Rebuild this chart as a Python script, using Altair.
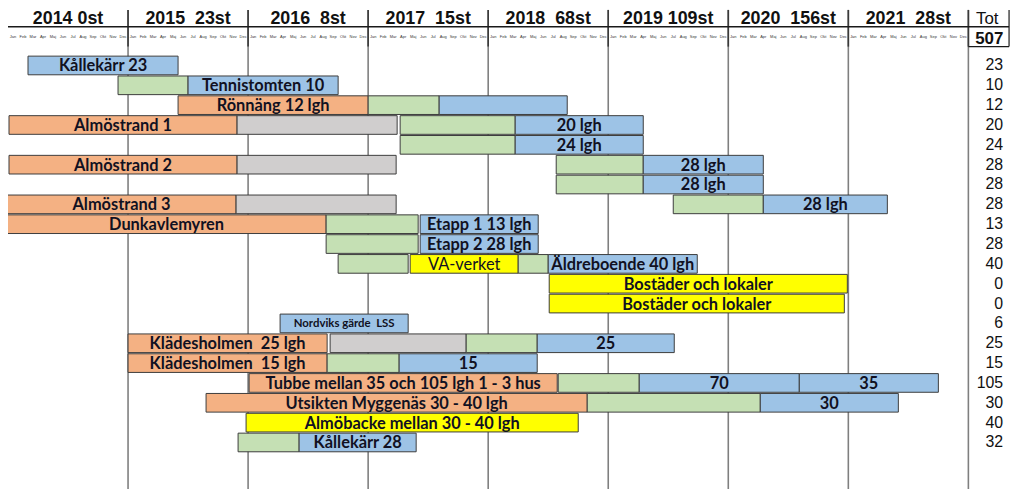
import altair as alt
import pandas as pd

# ---------------- data ----------------
year_labels = ["2014 0st", "2015\u00a0\u00a023st", "2016\u00a0\u00a08st", "2017\u00a0\u00a015st",
               "2018\u00a0\u00a068st", "2019 109st", "2020\u00a0\u00a0156st", "2021\u00a0\u00a028st"]
month_abbr = ["Jan", "Feb", "Mar", "Apr", "Maj", "Jun", "Jul", "Aug", "Sep", "Okt", "Nov", "Dec"]
year_bounds = [12, 24, 36, 48, 60, 72, 84, 96]
totals = [23, 10, 12, 20, 24, 28, 28, 28, 13, 28, 40, 0, 0, 6, 25, 15, 105, 30, 40, 32]
grand_total = "507"

# segments: row, start month (0 = Jan 2014), end month, phase colour, label, label style
seg_row = [0,
           1, 1,
           2, 2, 2,
           3, 3, 3, 3,
           4, 4,
           5, 5, 5, 5,
           6, 6,
           7, 7, 7, 7,
           8, 8, 8,
           9, 9,
           10, 10, 10, 10,
           11,
           12,
           13,
           14, 14, 14, 14,
           15, 15, 15,
           16, 16, 16, 16,
           17, 17, 17,
           18,
           19, 19]
seg_start = [2.0,
             11.0, 18.0,
             17.0, 36.0, 43.1,
             0.1, 22.9, 39.2, 50.7,
             39.2, 50.7,
             0.1, 22.9, 54.8, 63.5,
             54.8, 63.5,
             -0.1, 22.8, 66.5, 75.5,
             -0.1, 31.8, 41.2,
             31.8, 41.2,
             33.0, 40.2, 51.0, 54.0,
             54.1,
             54.1,
             27.2,
             12.0, 32.2, 45.8, 52.9,
             12.0, 31.9, 39.1,
             24.1, 55.0, 63.1, 79.1,
             19.8, 57.9, 75.2,
             23.8,
             23.0, 29.1]
seg_end = [17.0,
           18.0, 33.0,
           36.0, 43.1, 55.9,
           22.9, 38.9, 50.7, 63.5,
           50.7, 63.5,
           22.9, 38.8, 63.5, 75.5,
           63.5, 75.5,
           22.8, 38.8, 75.5, 87.9,
           31.8, 41.0, 53.0,
           41.0, 53.0,
           40.0, 51.0, 54.0, 68.9,
           83.9,
           83.6,
           40.0,
           31.9, 45.8, 52.9, 66.6,
           31.9, 39.1, 52.9,
           54.9, 63.1, 79.1, 93.0,
           57.9, 75.2, 89.0,
           57.0,
           29.1, 40.8]
seg_phase = ["blue",
             "green", "blue",
             "orange", "green", "blue",
             "orange", "gray", "green", "blue",
             "green", "blue",
             "orange", "gray", "green", "blue",
             "green", "blue",
             "orange", "gray", "green", "blue",
             "orange", "green", "blue",
             "green", "blue",
             "green", "yellow", "green", "blue",
             "yellow",
             "yellow",
             "blue",
             "orange", "gray", "green", "blue",
             "orange", "green", "blue",
             "orange", "green", "blue", "blue",
             "orange", "green", "blue",
             "yellow",
             "green", "blue"]
seg_label = ["Kållekärr 23",
             "", "Tennistomten 10",
             "Rönnäng 12 lgh", "", "",
             "Almöstrand 1", "", "", "20 lgh",
             "", "24 lgh",
             "Almöstrand 2", "", "", "28 lgh",
             "", "28 lgh",
             "Almöstrand 3", "", "", "28 lgh",
             "Dunkavlemyren", "", "Etapp 1 13 lgh",
             "", "Etapp 2 28 lgh",
             "", "VA-verket", "", "Äldreboende 40 lgh",
             "Bostäder och lokaler",
             "Bostäder och lokaler",
             "Nordviks gärde\u00a0\u00a0LSS",
             "Klädesholmen\u00a0\u00a025 lgh", "", "", "25",
             "Klädesholmen\u00a0\u00a015 lgh", "", "15",
             "Tubbe mellan 35 och 105 lgh 1 - 3 hus", "", "70", "35",
             "Utsikten Myggenäs 30 - 40 lgh", "", "30",
             "Almöbacke mellan 30 - 40 lgh",
             "", "Kållekärr 28"]
seg_style = ["bold" if lab else "" for lab in seg_label]
seg_style[seg_label.index("VA-verket")] = "normal"
seg_style[seg_label.index("Nordviks gärde\u00a0\u00a0LSS")] = "small"

# ---------------- tables ----------------
seg = pd.DataFrame({"row": seg_row, "start": seg_start, "end": seg_end,
                    "phase": seg_phase, "label": seg_label, "style": seg_style})
seg["top"] = seg["row"] - 0.47
seg["bottom"] = seg["row"] + 0.47
seg["mid"] = (seg["start"] + seg["end"]) / 2

years_df = pd.DataFrame({"mid": [i * 12 + 6 for i in range(len(year_labels))], "label": year_labels})
months_df = pd.DataFrame({"mid": [i + 0.5 for i in range(96)],
                          "label": [month_abbr[i % 12] for i in range(96)]})
bounds_df = pd.DataFrame({"m": year_bounds})
tot_df = pd.DataFrame({"row": list(range(len(totals))), "tot": [str(t) for t in totals]})
one = pd.DataFrame({"k": [0]})

# ---------------- scales ----------------
xs = alt.Scale(domain=[0, 96], range=[0, 968], nice=False, zero=False)
ys = alt.Scale(domain=[0, 20], range=[56, 456], nice=False, zero=False)
colors = alt.Scale(domain=["orange", "gray", "green", "blue", "yellow"],
                   range=["#F4B183", "#D0CECE", "#C5E0B4", "#9DC3E6", "#FFFF00"])

# ---------------- layers ----------------
grid = alt.Chart(bounds_df).mark_rule(color="#7f7f7f", strokeWidth=1.6).encode(
    x=alt.X("m:Q", scale=xs, axis=None), y=alt.value(0), y2=alt.value(483))
grid_head = alt.Chart(bounds_df).mark_rule(color="#3a3a3a", strokeWidth=1.6).encode(
    x=alt.X("m:Q", scale=xs, axis=None), y=alt.value(0), y2=alt.value(37))

hline = alt.Chart(one).mark_rule(color="#1a1a1a", strokeWidth=1.5).encode(
    x=alt.value(-1), x2=alt.value(1009), y=alt.value(17))
box_bottom = alt.Chart(one).mark_rule(color="#1a1a1a", strokeWidth=1.2).encode(
    x=alt.value(968), x2=alt.value(1009), y=alt.value(37))
box_right = alt.Chart(one).mark_rule(color="#1a1a1a", strokeWidth=1.2).encode(
    x=alt.value(1009), y=alt.value(0), y2=alt.value(37))

year_text = alt.Chart(years_df).mark_text(
    font="Liberation Sans", fontWeight="bold", fontSize=18, baseline="alphabetic",
    align="center", color="#111").encode(
    x=alt.X("mid:Q", scale=xs, axis=None), y=alt.value(14), text="label:N")
month_text = alt.Chart(months_df).mark_text(
    font="Liberation Sans", fontSize=4, baseline="middle", align="center", color="#333").encode(
    x=alt.X("mid:Q", scale=xs, axis=None), y=alt.value(27.5), text="label:N")

tot_head = alt.Chart(pd.DataFrame({"t": ["Tot"]})).mark_text(
    font="Liberation Sans", fontSize=17, baseline="alphabetic", align="center", color="#111").encode(
    x=alt.value(987), y=alt.value(14), text="t:N")
tot_all = alt.Chart(pd.DataFrame({"t": [grand_total]})).mark_text(
    font="Liberation Sans", fontWeight="bold", fontSize=17, baseline="alphabetic",
    align="center", color="#111").encode(
    x=alt.value(989), y=alt.value(34), text="t:N")
tot_text = alt.Chart(tot_df).mark_text(
    font="Liberation Sans", fontSize=16, baseline="middle", align="right", color="#111").encode(
    x=alt.value(1003), y=alt.Y("row:Q", scale=ys, axis=None), text="tot:N")

bars = alt.Chart(seg).mark_rect(stroke="#3c3c3c", strokeWidth=1).encode(
    x=alt.X("start:Q", scale=xs, axis=None), x2="end:Q",
    y=alt.Y("top:Q", scale=ys, axis=None), y2="bottom:Q",
    fill=alt.Fill("phase:N", scale=colors, legend=None))

def labels(style, weight, size):
    return alt.Chart(seg).transform_filter(alt.datum.style == style).mark_text(
        font="Lato", fontWeight=weight, fontSize=size, baseline="middle", align="center",
        color="#111122", dy=1).encode(
        x=alt.X("mid:Q", scale=xs, axis=None),
        y=alt.Y("row:Q", scale=ys, axis=None), text="label:N")

chart = alt.layer(
    grid, grid_head, hline, box_bottom, box_right,
    year_text, month_text, tot_head, tot_all, tot_text,
    bars, labels("bold", "bold", 16.5), labels("normal", "normal", 16.5), labels("small", "bold", 11.5),
).properties(
    width=1016, height=483, padding=0, autosize=alt.AutoSizeParams(type="none")
).configure_view(stroke=None)

chart.save("out.html", embed_options={"renderer": "svg", "actions": False})
